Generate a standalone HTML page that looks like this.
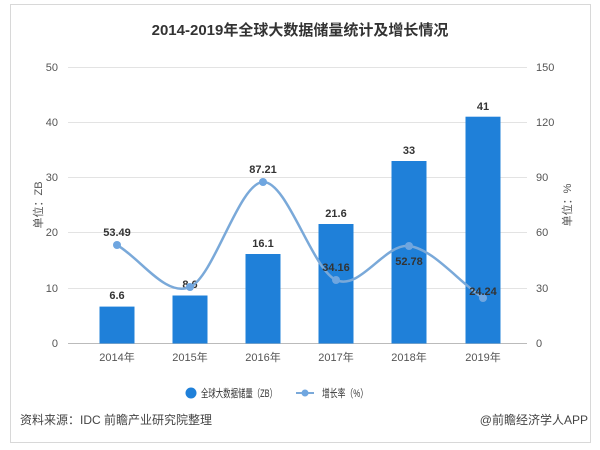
<!DOCTYPE html>
<html><head><meta charset="utf-8"><style>
html,body{margin:0;padding:0;background:#fff;}
body{width:600px;height:445px;overflow:hidden;font-family:"Liberation Sans","Noto Sans CJK SC",sans-serif;}
</style></head><body>
<svg width="600" height="445" viewBox="0 0 600 445" xmlns="http://www.w3.org/2000/svg" font-family="Liberation Sans, Noto Sans CJK SC, sans-serif">
<rect x="10.5" y="4.5" width="580" height="438" fill="#fff" stroke="#d8d8d8"/>
<text x="300" y="35" text-anchor="middle" font-size="15" font-weight="bold" fill="#333">2014-2019年全球大数据储量统计及增长情况</text>
<g stroke="#e3e3e3" stroke-width="1">
<line x1="68" y1="67.5" x2="527" y2="67.5"/>
<line x1="68" y1="122.5" x2="527" y2="122.5"/>
<line x1="68" y1="177.5" x2="527" y2="177.5"/>
<line x1="68" y1="232.5" x2="527" y2="232.5"/>
<line x1="68" y1="288.5" x2="527" y2="288.5"/>
</g>
<line x1="68" y1="343.5" x2="527" y2="343.5" stroke="#bbb"/>
<g font-size="11" fill="#555" text-anchor="end">
<text x="58" y="71">50</text><text x="58" y="126">40</text><text x="58" y="181">30</text><text x="58" y="236">20</text><text x="58" y="292">10</text><text x="58" y="347">0</text>
</g>
<g font-size="11" fill="#555" text-anchor="start">
<text x="536" y="71">150</text><text x="536" y="126">120</text><text x="536" y="181">90</text><text x="536" y="236">60</text><text x="536" y="292">30</text><text x="536" y="347">0</text>
</g>
<text transform="translate(42,205) rotate(-90)" font-size="11" fill="#555" text-anchor="middle">单位：ZB</text>
<text transform="translate(571,205) rotate(-90)" font-size="11" fill="#555" text-anchor="middle">单位：%</text>
<g fill="#1f80d9">
<rect x="99.5" y="306.6" width="35" height="36.9"/>
<rect x="172.5" y="295.5" width="35" height="48"/>
<rect x="245.5" y="254" width="35" height="89.5"/>
<rect x="318.5" y="224" width="35" height="119.5"/>
<rect x="391.5" y="161" width="35" height="182.5"/>
<rect x="465.5" y="116.7" width="35" height="226.8"/>
</g>
<g font-size="11" font-weight="bold" fill="#333" text-anchor="middle">
<text x="117" y="299">6.6</text><text x="190" y="288">8.6</text><text x="263" y="247">16.1</text><text x="336" y="217">21.6</text><text x="409" y="154">33</text><text x="483" y="110">41</text>
</g>
<path d="M117,245 C141,259 166,297.5 190,287 C214,276.5 239,183 263,182 C287,181 312,269 336,280 C360,291 385,243 409,246 C433,249 458,281 483,298" fill="none" stroke="#7aa9d9" stroke-width="2.5"/>
<g fill="#6fa6e0">
<circle cx="117" cy="245" r="4"/><circle cx="190" cy="287" r="4"/><circle cx="263" cy="182" r="4"/><circle cx="336" cy="280" r="4"/><circle cx="409" cy="246" r="4"/><circle cx="483" cy="298" r="4"/>
</g>
<g font-size="11" font-weight="bold" fill="#333" text-anchor="middle">
<text x="117" y="236">53.49</text><text x="263" y="173">87.21</text><text x="336" y="271">34.16</text><text x="409" y="265">52.78</text><text x="483" y="295">24.24</text>
</g>
<g font-size="11" fill="#555" text-anchor="middle">
<text x="117" y="361">2014年</text><text x="190" y="361">2015年</text><text x="263" y="361">2016年</text><text x="336" y="361">2017年</text><text x="409" y="361">2018年</text><text x="483" y="361">2019年</text>
</g>
<circle cx="191" cy="393" r="5.5" fill="#1f80d9"/>
<text x="201" y="397" font-size="11" fill="#333" textLength="76" lengthAdjust="spacingAndGlyphs">全球大数据储量（ZB）</text>
<line x1="296" y1="393" x2="314" y2="393" stroke="#7aa9d9" stroke-width="2"/>
<circle cx="305" cy="393" r="3.5" fill="#6fa6e0"/>
<text x="322" y="397" font-size="11" fill="#333" textLength="46" lengthAdjust="spacingAndGlyphs">增长率（%）</text>
<text x="20" y="424" font-size="12" fill="#444">资料来源：IDC 前瞻产业研究院整理</text>
<text x="588" y="424" font-size="12" fill="#444" text-anchor="end">@前瞻经济学人APP</text>
</svg>
</body></html>
